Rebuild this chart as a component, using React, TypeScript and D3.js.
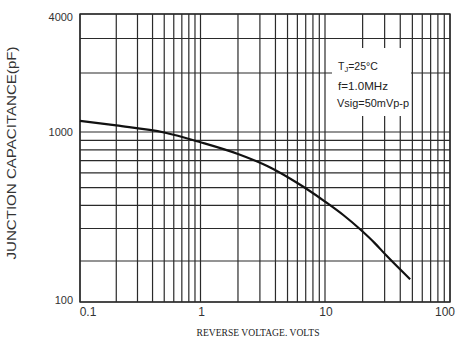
import React from "react";
import * as d3 from "d3";

// Data
const voltage = [0.1, 0.2, 0.5, 1, 2, 3.5, 6, 10, 14, 19, 25, 31, 48];
const capacitance = [1140, 1080, 994, 880, 760, 650, 529, 420, 355, 298, 250, 214, 147];

const xTickLabels = ["0.1", "1", "10", "100"];
const xTickValues = [0.1, 1, 10, 100];
const yTickLabels = ["100", "1000", "4000"];
const yTickValues = [100, 1000, 4000];
const notes = ["=25°C", "f=1.0MHz", "Vsig=50mVp-p"];

const W = 456;
const H = 340;

export default function App() {
  // the scanned grid is not perfectly uniform, so use piecewise log scales
  const x = d3.scaleLog().domain([0.1, 1, 10, 100]).range([80, 200.5, 325, 450]);
  const y = d3.scaleLog().domain([100, 200, 1000, 4000]).range([302, 261, 132, 14]);

  const xGrid: number[] = [];
  [0.1, 1, 10].forEach((d) => {
    for (let k = 1; k <= 9; k++) xGrid.push(d * k);
  });
  xGrid.push(100);
  const yGrid: number[] = [];
  for (let k = 1; k <= 9; k++) yGrid.push(100 * k);
  for (let k = 1; k <= 4; k++) yGrid.push(1000 * k);

  const pts: [number, number][] = voltage.map((v, i) => [x(v), y(capacitance[i])]);
  const line = d3.line().curve(d3.curveMonotoneX)(pts) || "";

  const font = "'Liberation Sans', Arial, sans-serif";
  const gridColor = "#2a2a2a";

  return (
    <svg
      width={W}
      height={H}
      style={{ position: "absolute", left: 0, top: 0, background: "#fff" }}
    >
      <rect x={0} y={0} width={W} height={H} fill="#fff" />
      {xGrid.map((v, i) => (
        <line
          key={"xg" + i}
          x1={x(v)}
          x2={x(v)}
          y1={y(4000)}
          y2={y(100)}
          stroke={gridColor}
          strokeWidth={1.2}
        />
      ))}
      {yGrid.map((v, i) => (
        <line
          key={"yg" + i}
          x1={x(0.1)}
          x2={x(100)}
          y1={y(v)}
          y2={y(v)}
          stroke={gridColor}
          strokeWidth={1.2}
        />
      ))}
      <rect
        x={x(0.1)}
        y={y(4000)}
        width={x(100) - x(0.1)}
        height={y(100) - y(4000)}
        fill="none"
        stroke={gridColor}
        strokeWidth={1.4}
      />
      {/* annotation box */}
      <rect x={332} y={48} width={79} height={68} fill="#fff" />
      <text x={338} y={70} fontFamily={font} fontSize={10.5} fill="#222">
        T<tspan fontSize={7.5} dy={2}>J</tspan>
        <tspan dy={-2}>{notes[0]}</tspan>
      </text>
      <text x={338} y={90} fontFamily={font} fontSize={10.5} fill="#222" textLength={50} lengthAdjust="spacingAndGlyphs">
        {notes[1]}
      </text>
      <text x={337} y={107} fontFamily={font} fontSize={10.5} fill="#222" textLength={72} lengthAdjust="spacingAndGlyphs">
        {notes[2]}
      </text>

      <path d={line} fill="none" stroke="#111" strokeWidth={2.2} />

      {yTickValues.map((v, i) => (
        <text
          key={"yl" + i}
          x={73}
          y={y(v) + 4 + (i === 2 ? 3 : 0) - (i === 0 ? 2 : 0)}
          textAnchor="end"
          fontFamily={font}
          fontSize={11}
          fill="#333"
        >
          {yTickLabels[i]}
        </text>
      ))}
      {xTickValues.map((v, i) => (
        <text
          key={"xl" + i}
          x={i === 3 ? 455 : x(v) + (i === 0 ? 8 : 1)}
          y={316}
          textAnchor={i === 3 ? "end" : "middle"}
          fontFamily={font}
          fontSize={12}
          fill="#333"
        >
          {xTickLabels[i]}
        </text>
      ))}
      <text
        x={258}
        y={336}
        textAnchor="middle"
        fontFamily="'Liberation Serif', 'Times New Roman', serif"
        fontSize={10.5}
        fill="#222"
        textLength={123}
        lengthAdjust="spacingAndGlyphs"
      >
        REVERSE VOLTAGE. VOLTS
      </text>
      <text
        transform={`translate(16,${153}) rotate(-90)`}
        textAnchor="middle"
        fontFamily={font}
        fontSize={12}
        fill="#333"
        textLength={213}
        lengthAdjust="spacingAndGlyphs"
      >
        JUNCTION CAPACITANCE(pF)
      </text>
    </svg>
  );
}
